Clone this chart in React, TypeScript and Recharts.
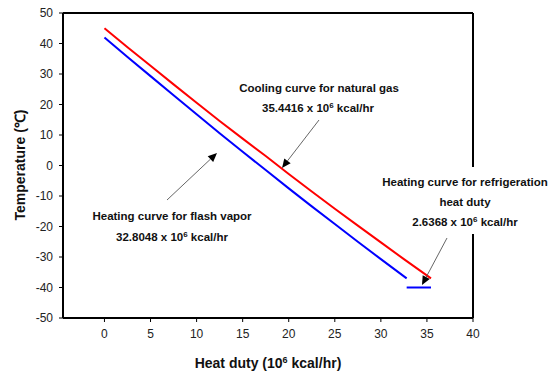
import React from 'react';
import { LineChart, Line, XAxis, YAxis, ReferenceLine } from 'recharts';

// heat duty (10^6 kcal/hr) vs temperature (C)
const gasDuty = [0, 2.5, 5, 7.5, 10, 12.5, 15, 17.5, 20, 22.5, 25, 27.5, 30, 32.5, 35.44];
const gasTemp = [45, 38.8, 32.7, 26.6, 20.6, 14.6, 8.8, 3.1, -2.8, -8.5, -14.2, -19.7, -25.2, -30.7, -37.0];

const flashDuty = [0, 2.5, 5, 7.5, 10, 12.5, 15, 17.5, 20, 22.5, 25, 27.5, 30, 32.8];
const flashTemp = [42, 35.6, 29.3, 23.0, 16.8, 10.6, 4.5, -1.5, -7.5, -13.4, -19.2, -25.0, -30.7, -37.0];

const refDuty = [32.8, 35.44];
const refTemp = [-40, -40];

const xTicks = [0, 5, 10, 15, 20, 25, 30, 35, 40];
const yTicks = [-50, -40, -30, -20, -10, 0, 10, 20, 30, 40, 50];

const toRows = (xs: number[], ys: number[]) => xs.map((x, i) => ({ x, y: ys[i] }));

const font = 'Arial, "Liberation Sans", sans-serif';

const Arrow = ({ x1, y1, x2, y2 }: { x1: number; y1: number; x2: number; y2: number }) => {
  const a = Math.atan2(y2 - y1, x2 - x1);
  const len = 9;
  const w = 4;
  const bx = x2 - len * Math.cos(a);
  const by = y2 - len * Math.sin(a);
  const p1 = `${bx + w * Math.sin(a)},${by - w * Math.cos(a)}`;
  const p2 = `${bx - w * Math.sin(a)},${by + w * Math.cos(a)}`;
  return (
    <g>
      <line x1={x1} y1={y1} x2={bx} y2={by} stroke="#555" strokeWidth={0.9} />
      <polygon points={`${x2},${y2} ${p1} ${p2}`} fill="#000" />
    </g>
  );
};

const Label = ({ x, y, children }: { x: number; y: number; children: React.ReactNode }) => (
  <text x={x} y={y} textAnchor="middle" fontFamily={font} fontWeight="bold" fontSize={11.5} fill="#111">
    {children}
  </text>
);

const Sup = ({ v }: { v: string }) => (
  <>
    <tspan dy={-4} fontSize={8}>{v}</tspan>
    <tspan dy={4}> </tspan>
  </>
);

export default function App() {
  return (
    <div style={{ position: 'absolute', left: 0, top: 0, width: 555, height: 374, background: '#fff' }}>
      <LineChart width={555} height={374} margin={{ top: 13, right: 82, bottom: 26, left: 0 }}>
        <XAxis
          type="number"
          dataKey="x"
          domain={[-4.5, 40]}
          ticks={xTicks}
          allowDataOverflow
          height={30}
          tickSize={4}
          tickMargin={7}
          axisLine={{ stroke: '#000', strokeWidth: 2 }}
          tickLine={{ stroke: '#000' }}
          tick={{ fill: '#222', fontSize: 12, fontFamily: font }}
        />
        <YAxis
          type="number"
          dataKey="y"
          domain={[-50, 50]}
          ticks={yTicks}
          width={63}
          tickSize={4}
          tickMargin={6}
          axisLine={{ stroke: '#000', strokeWidth: 2 }}
          tickLine={{ stroke: '#000' }}
          tick={{ fill: '#222', fontSize: 12, fontFamily: font }}
        />
        <ReferenceLine y={50} stroke="#000" strokeWidth={2} />
        <ReferenceLine x={40} stroke="#000" strokeWidth={2} />
        <Line data={toRows(gasDuty, gasTemp)} dataKey="y" stroke="#ff0000" strokeWidth={2} dot={false} isAnimationActive={false} />
        <Line data={toRows(flashDuty, flashTemp)} dataKey="y" stroke="#0000ff" strokeWidth={2} dot={false} isAnimationActive={false} />
        <Line data={toRows(refDuty, refTemp)} dataKey="y" stroke="#0000ff" strokeWidth={2} dot={false} isAnimationActive={false} />
      </LineChart>

      <svg width={555} height={374} style={{ position: 'absolute', left: 0, top: 0, pointerEvents: 'none' }}>
        <text
          transform="translate(25,165) rotate(-90)"
          textAnchor="middle"
          fontFamily={font}
          fontWeight="bold"
          fontSize={14}
          fill="#111"
        >
          Temperature (℃)
        </text>
        <text x={268} y={368} textAnchor="middle" fontFamily={font} fontWeight="bold" fontSize={14} fill="#111">
          Heat duty (10<tspan dy={-5} fontSize={9}>6</tspan><tspan dy={5}> kcal/hr)</tspan>
        </text>

        <Label x={319} y={92}>Cooling curve for natural gas</Label>
        <Label x={318} y={112}>35.4416 x 10<Sup v="6" />kcal/hr</Label>
        <Arrow x1={319} y1={120} x2={282} y2={168} />

        <Label x={172} y={220}>Heating curve for flash vapor</Label>
        <Label x={172} y={241}>32.8048 x 10<Sup v="6" />kcal/hr</Label>
        <Arrow x1={167} y1={200} x2={217} y2={153} />

        <rect x={381} y={167} width={168} height={67} fill="#fff" />
        <Label x={465} y={186}>Heating curve for refrigeration</Label>
        <Label x={465} y={206}>heat duty</Label>
        <Label x={465} y={226}>2.6368 x 10<Sup v="6" />kcal/hr</Label>
        <Arrow x1={447} y1={238} x2={422} y2={285} />
      </svg>
    </div>
  );
}
